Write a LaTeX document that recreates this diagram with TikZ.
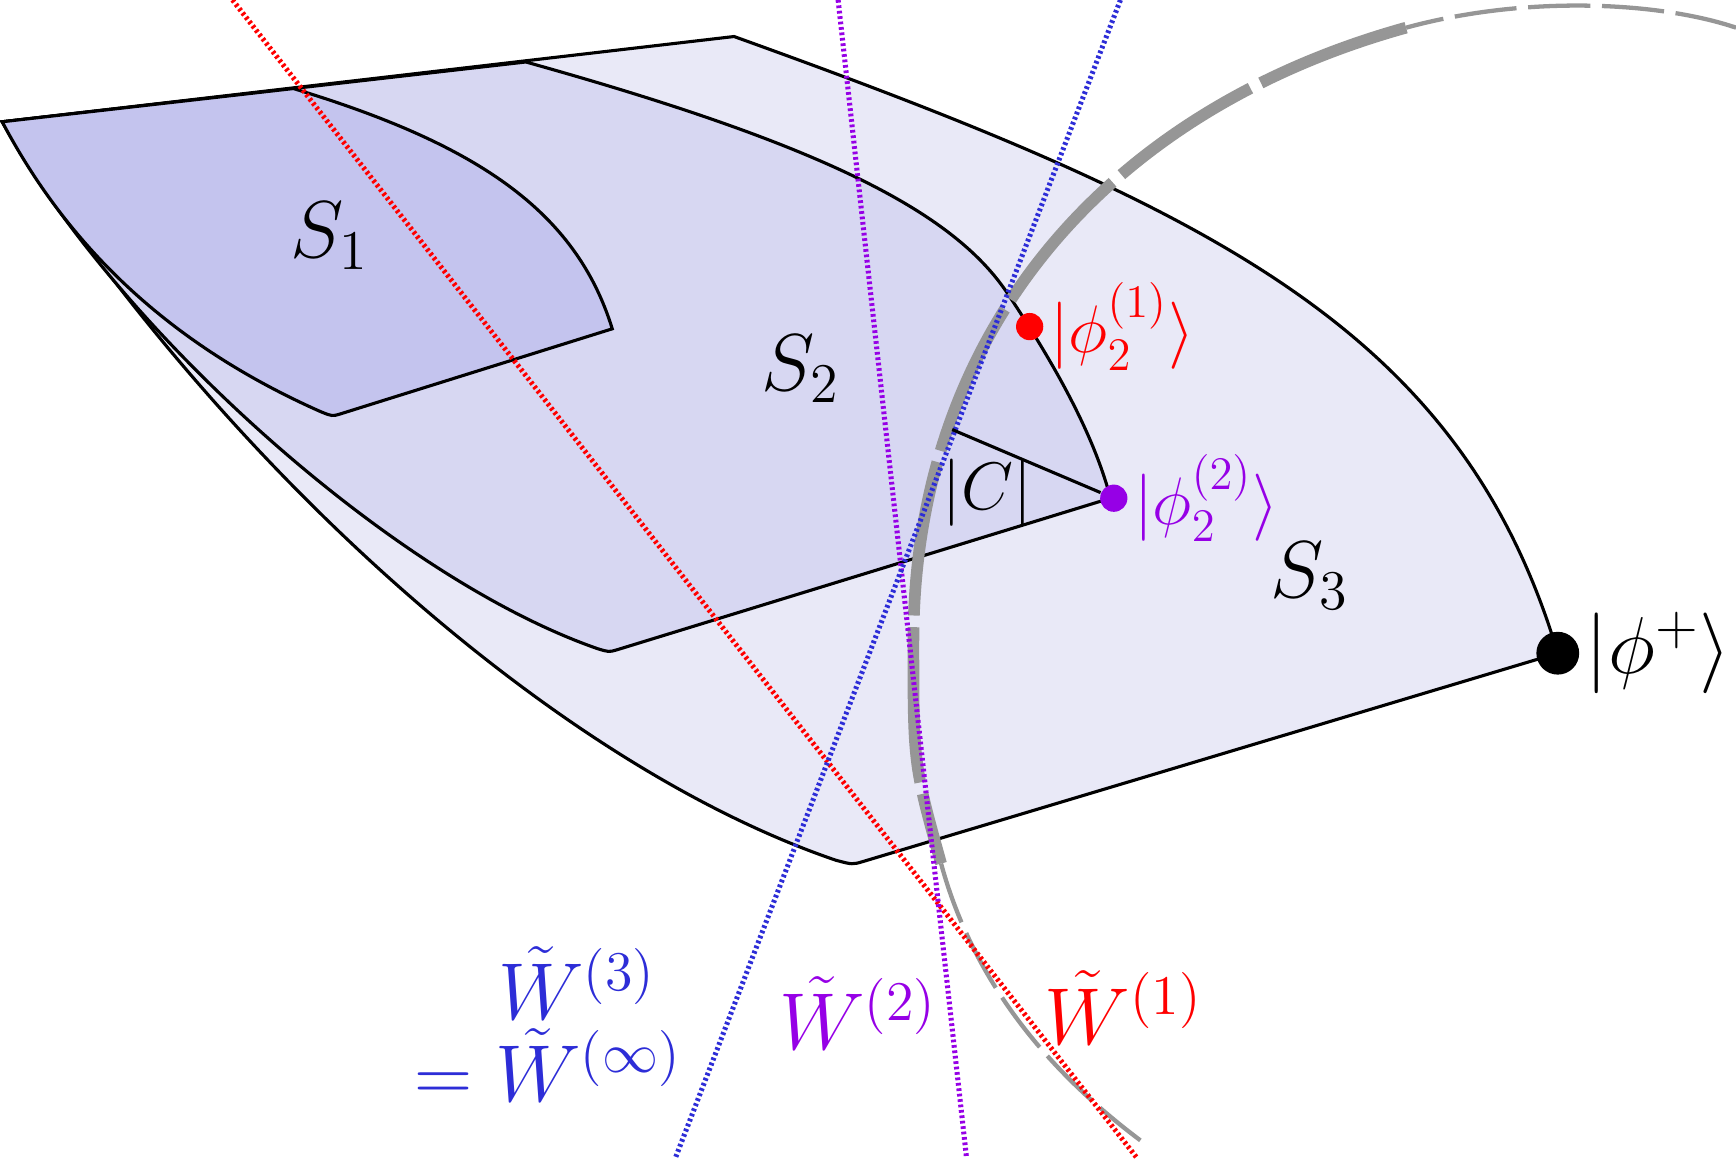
\documentclass[tikz,border=0pt]{standalone}
\usepackage{amsmath}
\usepackage{tikz}
\usetikzlibrary{positioning}
\definecolor{sthree}{RGB}{233,233,247}
\definecolor{stwo}{RGB}{215,215,242}
\definecolor{sone}{RGB}{196,196,238}
\definecolor{wblue}{RGB}{45,45,215}
\definecolor{wviolet}{RGB}{150,0,230}
\definecolor{arcgray}{RGB}{150,150,150}
\tikzset{
  region/.style={draw=black, line width=0.8pt},
  wline/.style={dash pattern=on 0.7pt off 0.7pt, line width=1.3pt},
  thinarc/.style={arcgray, line width=1.1pt, dash pattern=on 16pt off 3pt},
  dotpt/.style={circle, fill, inner sep=0pt, minimum size=#1},
  ketlabel/.style={font=\fontsize{18}{22}\selectfont},
}
\newcommand{\Sthree}{(0.02,-1.10) -- (6.63,-0.33) .. controls (11.0,-1.9) and (13.2,-3.0) .. (14.07,-5.90) -- (7.80,-7.78) .. controls (7.70,-7.81) .. (7.55,-7.77) .. controls (5.0,-6.9) and (2.0,-4.2) .. (0.02,-1.10) -- cycle}
\begin{document}
\begin{tikzpicture}
        \useasboundingbox (0,0) rectangle (15.68,-10.46);
        % regions
        \fill[sthree] \Sthree;
        \draw[region] \Sthree;
        \draw[region, fill=stwo] (0.02,-1.10) -- (4.75,-0.56) .. controls (7.4,-1.3) and (8.6,-1.9) .. (9.1,-2.65)
          .. controls (9.6,-3.4) and (9.9,-4.0) .. (10.03,-4.50) -- (5.57,-5.87)
          .. controls (5.5,-5.89) .. (5.40,-5.86) .. controls (3.5,-5.2) and (1.0,-2.9) .. (0.02,-1.10) -- cycle;
        \draw[region, fill=sone] (0.02,-1.10) -- (2.65,-0.80) .. controls (4.3,-1.3) and (5.2,-1.9) .. (5.53,-2.97)
          -- (3.07,-3.74) .. controls (3.0,-3.76) .. (2.90,-3.72) .. controls (1.5,-3.1) and (0.6,-2.2) .. (0.02,-1.10) -- cycle;
        % dashed arc
        \draw[arcgray, line width=3pt, dash pattern=on 40pt off 3pt]
          (12.70,-0.25) .. controls (10.0,-1.0) and (8.25,-3.0) .. (8.25,-5.8)
          .. controls (8.25,-6.9) .. (8.50,-7.80);
        \draw[thinarc] (15.68,-0.25) .. controls (15.0,-0.02) and (13.8,0.05) .. (12.70,-0.25);
        \draw[thinarc] (8.50,-7.80) .. controls (8.8,-8.9) and (9.5,-9.7) .. (10.30,-10.30);
        % witness lines
        \draw[wline, red] (2.10,0) -- (10.27,-10.46);
        \draw[wline, wviolet] (7.57,0) -- (8.73,-10.46);
        \draw[wline, wblue] (10.12,0) -- (6.10,-10.46);
        % points
        \node[dotpt=7pt, fill=red] (p1) at (9.30,-2.95) {};
        \node[dotpt=7pt, fill=wviolet] (p2) at (10.06,-4.50) {};
        \node[dotpt=11pt, fill=black] (pp) at (14.07,-5.90) {};
        \coordinate (c0) at (8.60,-3.88);
        \draw[line width=0.8pt] (c0) -- (p2);
        %---------------------------
        \node[font=\fontsize{22}{26}\selectfont] (s1) at (2.98,-2.13) {$S_1$};
        \node[font=\fontsize{22}{26}\selectfont] (s2) at (7.23,-3.33) {$S_2$};
        \node[font=\fontsize{22}{26}\selectfont] (s3) at (11.83,-5.20) {$S_3$};
        \node[font=\LARGE] (cc) at (8.92,-4.45) {$|C|$};
        \node[ketlabel, red, right=-2pt of p1] (l1) {$|\phi_2^{(1)}\rangle$};
        \node[ketlabel, wviolet, right=-2pt of p2] (l2) {$|\phi_2^{(2)}\rangle$};
        \node[font=\huge, right=-2pt of pp] (lp) {$|\phi^+\rangle$};
        \node[font=\huge, wblue, align=center] (w3) at (4.95,-9.25) {$\phantom{=}\tilde W^{(3)}$\\[-4pt]$=\tilde W^{(\infty)}$};
        \node[font=\huge, wviolet] (w2) at (7.75,-9.15) {$\tilde W^{(2)}$};
        \node[font=\huge, red] (w1) at (10.15,-9.10) {$\tilde W^{(1)}$};
\end{tikzpicture}
\end{document}
